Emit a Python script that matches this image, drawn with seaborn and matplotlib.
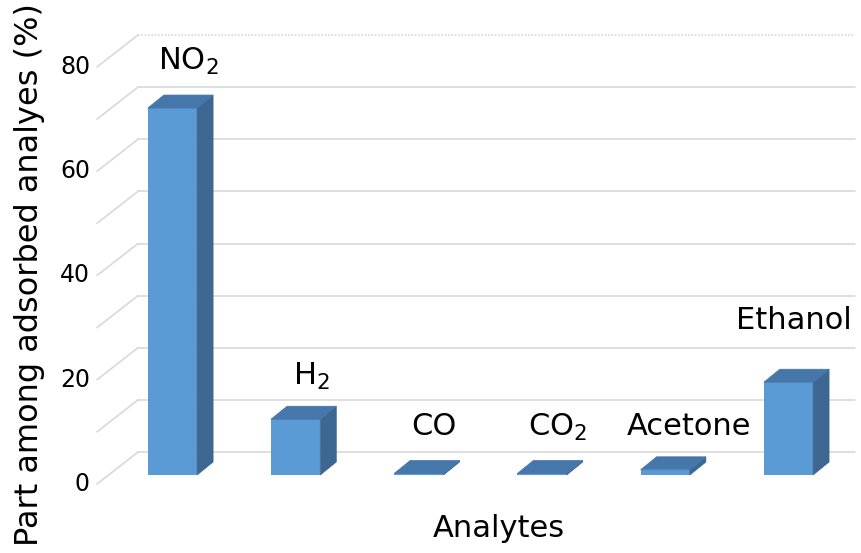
import matplotlib
matplotlib.use("Agg")
import matplotlib.pyplot as plt
import numpy as np
import pandas as pd
import seaborn as sns
from matplotlib.patches import Polygon
from matplotlib.transforms import ScaledTranslation

# Data
analytes = ["NO2", "H2", "CO", "CO2", "Acetone", "Ethanol"]
bar_labels = [r"NO$_\mathregular{2}$", r"H$_\mathregular{2}$", "CO",
              r"CO$_\mathregular{2}$", "Acetone", "Ethanol"]
share = [70.4, 10.7, 0.3, 0.3, 1.0, 17.8]
tick_values = [0, 20, 40, 60, 80]
grid_values = [0, 10, 20, 30, 40, 50, 60, 70, 80]

# Styling
FRONT = "#5B9BD5"
TOP = "#4677AB"
SIDE = "#3D6690"
GRID = "#D9D9D9"
label_offsets = [(16, 38), (16, 34), (15, 38), (16, 38), (24, 35), (5, 53)]

sns.set_theme(style="white")
plt.rcParams["font.family"] = ["DejaVu Sans"]
plt.rcParams["mathtext.fontset"] = "dejavusans"

W, H = 861, 553
fig = plt.figure(figsize=(W / 100, H / 100), dpi=100)
fig.patch.set_facecolor("white")

# axes represent the plane of the bar fronts
ax = fig.add_axes([109 / W, (H - 475) / H, (826 - 109) / W, (475 - 58) / H])
df = pd.DataFrame({"Analyte": analytes, "Share": share})
sns.barplot(data=df, x="Analyte", y="Share", color=FRONT, saturation=1,
            width=0.4, ax=ax, zorder=3, linewidth=0)
ax.set_xlim(-0.515, 5.305)
ax.set_ylim(0, 80)
ax.set_xticks([])
ax.set_yticks([])
ax.set_xlabel("")
ax.set_ylabel("")
for s in ax.spines.values():
    s.set_visible(False)
ax.patch.set_alpha(0)

def shifted(dx, dy):
    return ax.transData + ScaledTranslation(dx / 100, dy / 100, fig.dpi_scale_trans)

to_fig = fig.transFigure.inverted()
x0, x1 = ax.get_xlim()

# back wall gridlines and left-side depth lines
wall_dx, wall_dy = 29, 23
front_dx, front_dy = -12, -9
for v in grid_values:
    ls = (0, (1, 1)) if v == grid_values[-1] else "-"
    ax.plot([x0, x1], [v, v], transform=shifted(wall_dx, wall_dy), color=GRID,
            lw=1.2, ls=ls, clip_on=False, zorder=0)
    base = ax.transData.transform((x0, v))
    pts = np.array([base + (front_dx, front_dy), base + (wall_dx, wall_dy)])
    ax.plot(*to_fig.transform(pts).T, transform=fig.transFigure, color=GRID,
            lw=1.2, clip_on=False, zorder=0)

for v in tick_values:
    ax.text(x0, v, str(v), transform=shifted(front_dx - 7, front_dy),
            ha="right", va="center", fontsize=17, color="black")

# 3D top and side faces of each bar
bar_dx, bar_dy = 16, 13
for p in ax.patches:
    bx, bw, bh = p.get_x(), p.get_width(), p.get_height()
    xl, yb = ax.transData.transform((bx, 0))
    xr, yt = ax.transData.transform((bx + bw, bh))
    top = np.array([(xl, yt), (xr, yt), (xr + bar_dx, yt + bar_dy), (xl + bar_dx, yt + bar_dy)])
    side = np.array([(xr, yb), (xr, yt), (xr + bar_dx, yt + bar_dy), (xr + bar_dx, yb + bar_dy)])
    ax.add_patch(Polygon(to_fig.transform(side), closed=True, transform=fig.transFigure,
                         facecolor=SIDE, edgecolor=SIDE, lw=0.5, clip_on=False, zorder=4))
    ax.add_patch(Polygon(to_fig.transform(top), closed=True, transform=fig.transFigure,
                         facecolor=TOP, edgecolor=TOP, lw=0.5, clip_on=False, zorder=4))

# labels above the bars
for i, (lab, val) in enumerate(zip(bar_labels, share)):
    dx, dy = label_offsets[i]
    ax.annotate(lab, xy=(i, val), xytext=(dx, dy), textcoords="offset pixels",
                ha="center", va="baseline", fontsize=22, color="black",
                annotation_clip=False, zorder=5)

fig.text(499 / W, 1 - 537 / H, "Analytes", ha="center", va="baseline",
         fontsize=22, color="black")
fig.text(30 / W, 1 - 275 / H, "Part among adsorbed analyes (%)", rotation=90,
         ha="center", va="center", fontsize=23, color="black")

fig.savefig("out.png", dpi=100, facecolor="white")
